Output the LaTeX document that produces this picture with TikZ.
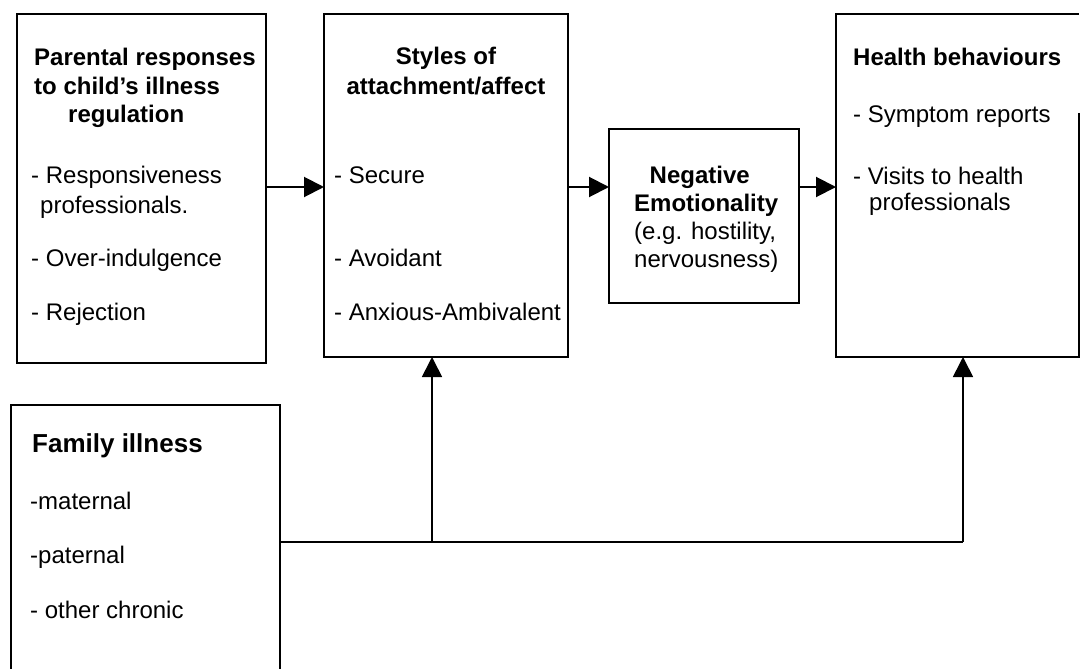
\documentclass[tikz,border=0pt]{standalone}
\usepackage{fontspec}
\setmainfont{Liberation Sans}
\usetikzlibrary{arrows.meta}
\begin{document}
\begin{tikzpicture}[x=1pt,y=-1pt,
  box/.style={draw=black, line width=2.4pt, inner sep=0pt, outer sep=0pt, anchor=north west},
  nobox/.style={inner sep=0pt, outer sep=0pt, anchor=north west},
  txt/.style={inner sep=0pt, anchor=base west, font=\fontsize{24}{28}\selectfont},
  btxt/.style={inner sep=0pt, anchor=base west, font=\fontsize{24}{28}\selectfont\bfseries},
  ctxt/.style={inner sep=0pt, anchor=base, font=\fontsize{24}{28}\selectfont\bfseries},
  arr/.style={line width=2pt, -{Triangle[length=20pt,width=20pt]}},
  famline/.style={line width=1.7pt},
  famarr/.style={line width=1.7pt, -{Triangle[length=20pt,width=20pt]}}
]
\useasboundingbox[fill=white] (0,0) rectangle (1080,669);

% boxes
\node[box, minimum width=249pt, minimum height=349pt] (A) at (17,14) {};
\node[box, minimum width=244pt, minimum height=343pt] (B) at (324,14) {};
\node[box, minimum width=190pt, minimum height=174pt] (C) at (609,129) {};
\node[nobox, minimum width=243pt, minimum height=343pt] (D) at (836,14) {};
\coordinate (dr) at (0,113);
\draw[line width=2.4pt, line join=miter] (D.north east |- dr) -- (D.south east) -- (D.south west) -- (D.north west) -- (D.north east);
\node[box, minimum width=269pt, minimum height=300pt] (E) at (11,405) {};

% box A text
\node[btxt] (a1) at (34,66) {Parental responses};
\node[btxt] (a2) at (34,95) {to child’s illness};
\node[btxt] (a3) at (68,123) {regulation};
\node[txt] (a4) at (31,183) {- Responsiveness};
\node[txt] (a5) at (40,213) {professionals.};
\node[txt] (a6) at (31,266) {- Over-indulgence};
\node[txt] (a7) at (31,320) {- Rejection};

% box B text
\node[ctxt] (b1) at (446,65) {Styles of};
\node[ctxt] (b2) at (446,95) {attachment/affect};
\node[txt] (b3) at (334,183) {- Secure};
\node[txt] (b4) at (334,266) {- Avoidant};
\node[txt] (b5) at (334,320) {- Anxious-Ambivalent};

% box C text
\node[btxt] (c1) at (649.5,183) {Negative};
\node[btxt] (c2) at (634,211) {Emotionality};
\node[txt] (c3) at (634,239) {(e.g. hostility,};
\node[txt] (c4) at (634,267) {nervousness)};

% box D text
\node[btxt] (d1) at (853,66) {Health behaviours};
\node[txt] (d2) at (853,123) {- Symptom reports};
\node[txt] (d3) at (853,184) {- Visits to health};
\node[txt] (d4) at (869,210) {professionals};

% box E text
\node[inner sep=0pt, anchor=base west, font=\fontsize{26}{30}\selectfont\bfseries] (e1) at (32,452) {Family illness};
\node[txt] (e2) at (30,509) {-maternal};
\node[txt] (e3) at (30,563) {-paternal};
\node[txt] (e4) at (30,618) {- other chronic};

% horizontal arrows
\coordinate (r1) at (0,187);
\draw[arr] (A.east |- r1) -- (B.west |- r1);
\draw[arr] (B.east |- r1) -- (C.west |- r1);
\draw[arr] (C.east |- r1) -- (D.west |- r1);

% family lines
\coordinate (fl) at (0,542);
\coordinate (j1) at (432,542);
\coordinate (j2) at (963,542);
\draw[famline] (E.east |- fl) -- (j2);
\draw[famarr] (j1) -- (j1 |- B.south);
\draw[famarr] (j2) -- (j2 |- D.south);
\end{tikzpicture}
\end{document}
